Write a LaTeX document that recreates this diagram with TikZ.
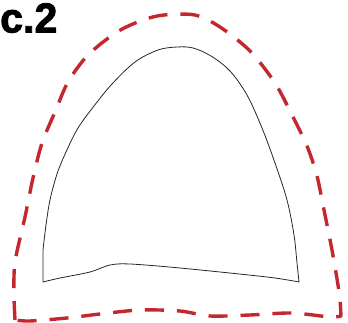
\documentclass[tikz,border=0pt]{standalone}
\usepackage{fontspec}
\setmainfont{Liberation Sans}
\newfontfamily\labelfont[FakeBold=2]{Liberation Sans Bold}
\usepackage{tikz}
\usetikzlibrary{positioning, calc}
\definecolor{outlinered}{HTML}{C4282E}
\tikzset{
  shapeline/.style={draw=black!85, line width=0.8pt, line join=round},
  offsetline/.style={draw=outlinered, line width=3.4pt, dash pattern=on 19pt off 13pt, line join=round},
}

\begin{document}
\begin{tikzpicture}[x=1pt, y=-1pt]
\useasboundingbox (0,0) rectangle (348,323);
\node[anchor=north west, inner sep=0pt, font=\labelfont\fontsize{42}{42}\selectfont] (lbl) at (0,3)
     {\scalebox{0.98}[1]{c.2}};

\draw[shapeline] (43,282) -- (43,250) -- plot[smooth, tension=0.55] coordinates {(43,250) (46,225) (50,200) (57,174) (66,152) (78,128) (94,106) (112,84) (135,62) (158,50) (177,47) (193,48) (211,56) (230,71) (247,95) (262,128) (275,163) (287,200) (294,235) (297,263) (299,282)}
  -- plot[smooth, tension=0.5] coordinates {(299,282) (267,277) (180,268) (130,264) (110,265) (90,272) (60,278) (43,282)} -- cycle;

\draw[offsetline] plot[smooth, tension=0.5] coordinates {(15,320) (14,295) (15,262) (25,217) (33,178) (42,143) (55,112) (68,82) (88,55) (117,32) (143,20) (164,15) (195,15) (220,27) (250,51) (275,83) (292,115) (307,146) (317,176) (324,210) (332,250) (338,285) (340,300) (341,316)}
  -- plot[smooth, tension=0.5] coordinates {(341,316) (330,317) (292,313) (250,315) (210,316) (180,311) (140,310) (100,314) (67,318) (30,321) (15,320)};
\end{tikzpicture}
\end{document}
